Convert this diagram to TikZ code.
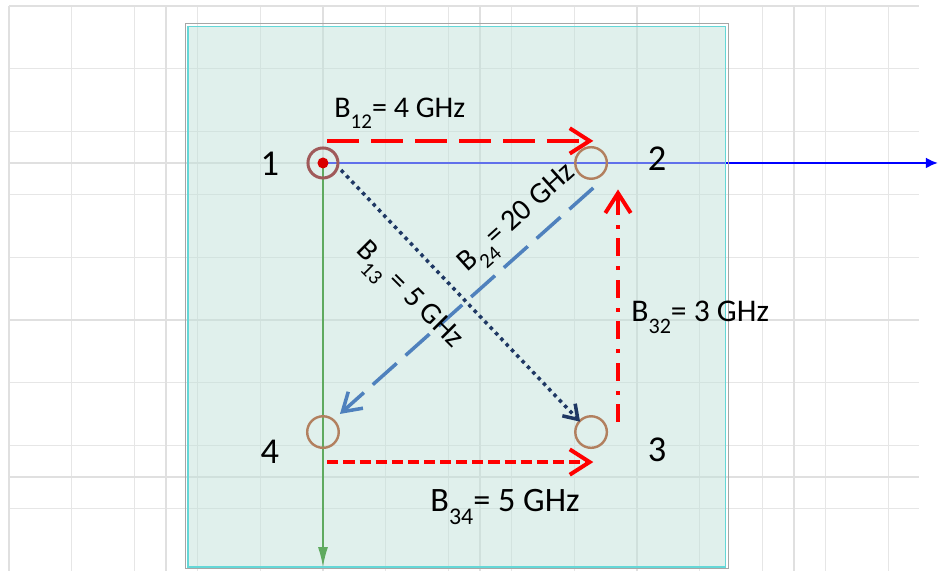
\documentclass[tikz,border=0pt]{standalone}
\usepackage{fontspec}
\setmainfont{Carlito}
\usetikzlibrary{arrows.meta}
\definecolor{gridgray}{RGB}{230,230,230}
\definecolor{gridmaj}{RGB}{224,224,224}
\definecolor{boxfill}{RGB}{193,225,217}
\definecolor{boxedge}{RGB}{100,215,215}
\definecolor{axisgreen}{RGB}{95,170,95}
\definecolor{ringone}{RGB}{160,90,90}
\definecolor{ringtan}{RGB}{178,128,95}
\definecolor{linknavy}{RGB}{31,56,100}
\definecolor{linksteel}{RGB}{79,129,189}
\newcommand\bwsub[1]{\raisebox{-0.37em}{\scalebox{0.7}{#1}}}
\begin{document}
\begin{tikzpicture}[x=0.5cm,y=0.5cm,
  station/.style={circle,draw=ringtan,line width=1.1pt,minimum size=14.3pt,inner sep=0pt},
  num/.style={font=\fontsize{16.5}{18}\selectfont},
  bwlabel/.style={inner sep=0pt,font=\fontsize{13.6}{15}\selectfont},
  mybarb/.style={-{Straight Barb[length=9pt,width=11.5pt]}},
  redlink/.style={mybarb,red,line width=1.8pt}]
\useasboundingbox (-0.287,0.191) rectangle (29.59,-18.09);
% grid
\draw[gridgray,line width=0.45pt] (0,-18) grid (29,0);
\draw[gridmaj,line width=0.65pt,step=5] (0,-18) grid (29,0);
% axes and box
\coordinate (o) at (10,-5);
\coordinate (xend) at (29.59,-5);
\coordinate (yend) at (10,-17.87);
\draw[blue,line width=1.1pt,-{Latex[length=5.5pt,width=5pt]}] (o) -- (xend);
\draw[gray!70,line width=0.5pt] (5.61,-0.57) rectangle (22.93,-17.93);
\draw[boxedge,line width=0.7pt,fill=boxfill,fill opacity=0.5]
    (5.70,-0.65) rectangle (22.82,-17.87);
\draw[axisgreen,line width=0.7pt,-{Latex[length=9pt,width=4.5pt]}] (o) -- (yend);
% stations
\node[station,draw=ringone,line width=1.36pt,minimum size=13.6pt] (n1) at (o) {};
\fill[red!85!black] (n1) circle[radius=2.5pt];
\node[station] (n2) at (18.54,-5) {};
\node[station] (n3) at (18.54,-13.57) {};
\node[station] (n4) at (10,-13.57) {};
\node[num] (l1) at (8.31,-5.02) {1};
\node[num] (l2) at (20.64,-4.87) {2};
\node[num] (l3) at (20.64,-14.14) {3};
\node[num] (l4) at (8.31,-14.20) {4};
% links
\draw[redlink,dash pattern=on 14.5pt off 5.4pt]
    ([xshift=2pt,yshift=10pt]n1.center) -- ([xshift=1pt,yshift=10pt]n2.center);
\draw[redlink,dash pattern=on 5pt off 2.3pt]
    ([xshift=2pt,yshift=-13.6pt]n4.center) -- ([xshift=1pt,yshift=-13.6pt]n3.center);
\draw[redlink,dash pattern=on 8pt off 4.5pt on 1.8pt off 4.5pt]
    ([xshift=12.2pt,yshift=4.5pt]n3.center) -- ([xshift=12.2pt,yshift=-12pt]n2.center);
\draw[linknavy,line width=1.6pt,dash pattern=on 1.6pt off 1.9pt,
    -{Straight Barb[length=6pt,width=8pt]}]
    ([xshift=8.2pt,yshift=-3.2pt]n1.center) -- ([xshift=-5pt,yshift=4.7pt]n3.center);
\draw[linksteel,line width=1.6pt,dash pattern=on 14.5pt off 5.4pt,
    -{Straight Barb[length=8pt,width=10pt]}]
    ([xshift=1pt,yshift=-11.3pt]n2.center) -- ([xshift=7.7pt,yshift=8.2pt]n4.center);
% labels
\node[bwlabel,anchor=base west] (b12) at (10.35,-3.54) {B\bwsub{12}= 4 GHz};
\node[bwlabel,anchor=base west,font=\fontsize{15.5}{17}\selectfont] (b34)
    at (13.41,-16.11) {B\bwsub{34}= 5 GHz};
\node[bwlabel,anchor=base west,font=\fontsize{14.3}{16}\selectfont] (b32)
    at (19.81,-10.06) {B\bwsub{32}= 3 GHz};
\node[bwlabel,rotate=-45] (b13) at (12.68,-9.27) {B\bwsub{13} = 5 GHz};
\node[bwlabel,rotate=42] (b24) at (16.24,-6.82) {B\bwsub{24}= 20 GHz};
\end{tikzpicture}
\end{document}
